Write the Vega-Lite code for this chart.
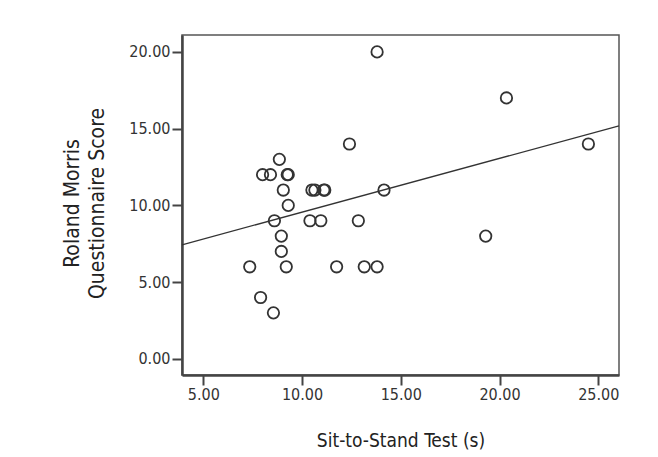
{
  "$schema": "https://vega.github.io/schema/vega-lite/v6.json",
  "autosize": {"type": "none"},
  "padding": {"left": 182, "top": 35, "right": 39, "bottom": 82},
  "width": 437,
  "height": 340,
  "background": "white",
  "config": {
    "view": {"stroke": "#555", "strokeWidth": 1.5},
    "font": "'DejaVu Sans Condensed', 'Roboto Condensed', 'Arial Narrow', sans-serif"
  },
  "datasets": {
    "points": [
      {"stand": 13.8, "rm": 20},
      {"stand": 12.4, "rm": 14},
      {"stand": 8.85, "rm": 13},
      {"stand": 8.0, "rm": 12},
      {"stand": 8.4, "rm": 12},
      {"stand": 9.25, "rm": 12},
      {"stand": 9.3, "rm": 12},
      {"stand": 9.05, "rm": 11},
      {"stand": 10.5, "rm": 11},
      {"stand": 10.65, "rm": 11},
      {"stand": 11.1, "rm": 11},
      {"stand": 11.15, "rm": 11},
      {"stand": 14.15, "rm": 11},
      {"stand": 9.3, "rm": 10},
      {"stand": 8.6, "rm": 9},
      {"stand": 10.4, "rm": 9},
      {"stand": 10.95, "rm": 9},
      {"stand": 12.85, "rm": 9},
      {"stand": 8.95, "rm": 8},
      {"stand": 8.95, "rm": 7},
      {"stand": 7.35, "rm": 6},
      {"stand": 9.2, "rm": 6},
      {"stand": 11.75, "rm": 6},
      {"stand": 13.15, "rm": 6},
      {"stand": 13.8, "rm": 6},
      {"stand": 7.9, "rm": 4},
      {"stand": 8.55, "rm": 3},
      {"stand": 20.35, "rm": 17},
      {"stand": 24.5, "rm": 14},
      {"stand": 19.3, "rm": 8}
    ],
    "fit": [
      {"stand": 3.92, "rm": 7.43},
      {"stand": 26.05, "rm": 15.18}
    ]
  },
  "layer": [
    {
      "data": {"name": "fit"},
      "mark": {"type": "line", "color": "#333", "strokeWidth": 1.3},
      "encoding": {
        "x": {"field": "stand", "type": "quantitative"},
        "y": {"field": "rm", "type": "quantitative"}
      }
    },
    {
      "data": {"name": "points"},
      "mark": {"type": "point", "shape": "circle", "filled": false, "size": 130, "stroke": "#333", "strokeWidth": 1.8, "opacity": 1},
      "encoding": {
        "x": {
          "field": "stand", "type": "quantitative",
          "scale": {"domain": [3.92, 26.05], "nice": false, "zero": false},
          "axis": {
            "title": "Sit-to-Stand Test (s)",
            "values": [5, 10, 15, 20, 25],
            "format": ".2f",
            "grid": false,
            "domainColor": "#444", "domainWidth": 2.5,
            "tickColor": "#444", "tickWidth": 2, "tickSize": 10,
            "labelPadding": 1, "labelFontSize": 16, "labelColor": "#333",
            "titleFontSize": 19, "titleFontWeight": "normal", "titleColor": "#222",
            "titleBaseline": "alphabetic", "titleY": 71
          }
        },
        "y": {
          "field": "rm", "type": "quantitative",
          "scale": {"domain": [-1.05, 21.1], "nice": false, "zero": false},
          "axis": {
            "title": ["Roland Morris", "Questionnaire Score"],
            "values": [0, 5, 10, 15, 20],
            "format": ".2f",
            "grid": false,
            "domainColor": "#444", "domainWidth": 2.5,
            "tickColor": "#444", "tickWidth": 2, "tickSize": 10,
            "labelPadding": 2, "labelFontSize": 16, "labelColor": "#333",
            "titleFontSize": 21, "titleFontWeight": "normal", "titleColor": "#222",
            "titleAngle": -90, "titleAlign": "center", "titleBaseline": "middle",
            "titleLineHeight": 25, "titleX": -110, "titleY": 168
          }
        }
      }
    }
  ]
}
